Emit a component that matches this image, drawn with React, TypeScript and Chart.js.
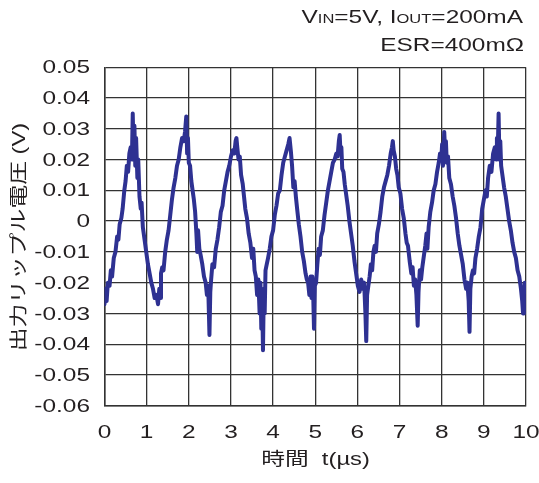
import React, { useEffect, useRef } from "react";
import { Chart, registerables } from "chart.js";

Chart.register(...registerables);

const timeUs: number[] = [
  0.00, 0.02, 0.05, 0.08, 0.12, 0.15, 0.18, 0.22, 0.26, 0.30, 0.33, 0.36, 0.40, 0.43, 0.47, 0.50, 0.53, 0.56, 0.59, 0.62,
  0.65, 0.67, 0.69, 0.71, 0.73, 0.75, 0.78, 0.80, 0.83, 0.86, 0.88, 0.91, 0.95, 0.99, 1.03, 1.07, 1.11, 1.15, 1.19, 1.23,
  1.27, 1.30, 1.32, 1.34, 1.37, 1.40, 1.44, 1.48, 1.52, 1.56, 1.60, 1.64, 1.68, 1.72, 1.76, 1.80, 1.84, 1.88, 1.91, 1.94,
  1.96, 1.98, 2.00, 2.03, 2.06, 2.09, 2.12, 2.15, 2.18, 2.20, 2.22, 2.25, 2.28, 2.32, 2.36, 2.40, 2.43, 2.46, 2.49, 2.51,
  2.53, 2.56, 2.60, 2.64, 2.68, 2.72, 2.76, 2.80, 2.84, 2.88, 2.92, 2.96, 3.00, 3.04, 3.08, 3.11, 3.13, 3.15, 3.18, 3.21,
  3.24, 3.28, 3.31, 3.34, 3.38, 3.42, 3.46, 3.50, 3.53, 3.56, 3.59, 3.62, 3.65, 3.68, 3.70, 3.72, 3.74, 3.76, 3.78, 3.80,
  3.82, 3.85, 3.88, 3.92, 3.96, 4.00, 4.04, 4.08, 4.12, 4.16, 4.20, 4.24, 4.28, 4.32, 4.36, 4.39, 4.42, 4.45, 4.48, 4.51,
  4.54, 4.57, 4.61, 4.65, 4.69, 4.73, 4.77, 4.80, 4.83, 4.86, 4.89, 4.91, 4.93, 4.95, 4.97, 4.99, 5.02, 5.05, 5.08, 5.11,
  5.14, 5.18, 5.22, 5.26, 5.30, 5.34, 5.38, 5.42, 5.46, 5.50, 5.53, 5.56, 5.58, 5.60, 5.62, 5.64, 5.67, 5.70, 5.73, 5.77,
  5.81, 5.85, 5.89, 5.93, 5.97, 6.01, 6.05, 6.09, 6.13, 6.16, 6.19, 6.21, 6.23, 6.26, 6.29, 6.32, 6.35, 6.38, 6.41, 6.44,
  6.47, 6.51, 6.55, 6.59, 6.63, 6.67, 6.71, 6.75, 6.79, 6.82, 6.84, 6.86, 6.89, 6.92, 6.95, 6.98, 7.02, 7.06, 7.10, 7.14,
  7.17, 7.20, 7.24, 7.28, 7.31, 7.34, 7.37, 7.40, 7.43, 7.45, 7.48, 7.51, 7.54, 7.57, 7.61, 7.64, 7.66, 7.69, 7.73, 7.77,
  7.81, 7.85, 7.89, 7.93, 7.96, 7.99, 8.01, 8.03, 8.06, 8.08, 8.10, 8.12, 8.15, 8.18, 8.22, 8.26, 8.30, 8.34, 8.38, 8.42,
  8.46, 8.50, 8.54, 8.58, 8.61, 8.64, 8.66, 8.68, 8.71, 8.74, 8.77, 8.80, 8.84, 8.88, 8.92, 8.96, 9.00, 9.04, 9.07, 9.10,
  9.14, 9.18, 9.22, 9.26, 9.29, 9.31, 9.33, 9.35, 9.37, 9.39, 9.41, 9.44, 9.48, 9.52, 9.56, 9.60, 9.64, 9.68, 9.72, 9.76,
  9.80, 9.84, 9.88, 9.91, 9.93, 9.95, 9.97, 10.00,
];

const rippleV: number[] = [
  -0.027, -0.022, -0.026, -0.020, -0.021, -0.016, -0.018, -0.012, -0.010, -0.005, -0.006, -0.001, 0.001, 0.004, 0.010, 0.013, 0.018, 0.016, 0.022, 0.024,
  0.020, 0.035, 0.022, 0.031, 0.018, 0.027, 0.014, 0.020, 0.008, 0.004, 0.006, -0.002, -0.006, -0.010, -0.014, -0.017, -0.020, -0.022, -0.025, -0.024,
  -0.027, -0.022, -0.025, -0.017, -0.015, -0.016, -0.010, -0.006, -0.003, 0.002, 0.007, 0.011, 0.014, 0.018, 0.020, 0.024, 0.027, 0.026, 0.029, 0.034,
  0.022, 0.027, 0.019, 0.018, 0.013, 0.010, 0.007, 0.003, -0.004, -0.010, -0.003, -0.009, -0.011, -0.014, -0.018, -0.020, -0.024, -0.021, -0.037, -0.023,
  -0.019, -0.014, -0.015, -0.009, -0.006, -0.002, 0.003, 0.005, 0.010, 0.013, 0.016, 0.018, 0.021, 0.023, 0.022, 0.026, 0.027, 0.024, 0.020, 0.021,
  0.015, 0.012, 0.008, 0.004, 0.001, -0.004, -0.007, -0.012, -0.009, -0.016, -0.018, -0.024, -0.019, -0.030, -0.020, -0.035, -0.025, -0.042, -0.022, -0.030,
  -0.016, -0.014, -0.012, -0.009, -0.005, -0.003, 0.002, 0.005, 0.009, 0.010, 0.015, 0.019, 0.021, 0.023, 0.025, 0.027, 0.023, 0.018, 0.011, 0.013,
  0.008, 0.004, -0.001, -0.005, -0.010, -0.013, -0.017, -0.019, -0.020, -0.024, -0.018, -0.025, -0.018, -0.023, -0.035, -0.021, -0.020, -0.014, -0.009, -0.011,
  -0.005, -0.003, 0.002, 0.006, 0.010, 0.013, 0.016, 0.019, 0.020, 0.022, 0.021, 0.026, 0.028, 0.022, 0.024, 0.017, 0.016, 0.012, 0.009, 0.005,
  0.000, -0.004, -0.008, -0.013, -0.017, -0.021, -0.023, -0.019, -0.022, -0.020, -0.030, -0.039, -0.024, -0.021, -0.018, -0.014, -0.016, -0.010, -0.008, -0.010,
  -0.004, -0.001, 0.003, 0.008, 0.011, 0.013, 0.015, 0.018, 0.022, 0.024, 0.026, 0.023, 0.021, 0.017, 0.015, 0.011, 0.009, 0.004, 0.001, -0.004,
  -0.007, -0.008, -0.013, -0.017, -0.015, -0.021, -0.019, -0.024, -0.034, -0.023, -0.016, -0.019, -0.015, -0.012, -0.008, -0.004, -0.009, -0.002, 0.003, 0.006,
  0.010, 0.012, 0.016, 0.019, 0.022, 0.020, 0.025, 0.018, 0.029, 0.023, 0.026, 0.019, 0.021, 0.014, 0.012, 0.008, 0.005, 0.001, -0.004, -0.008,
  -0.011, -0.014, -0.019, -0.022, -0.020, -0.026, -0.036, -0.022, -0.018, -0.016, -0.017, -0.012, -0.009, -0.005, -0.002, 0.004, 0.007, 0.010, 0.008, 0.014,
  0.018, 0.016, 0.022, 0.024, 0.020, 0.027, 0.023, 0.035, 0.020, 0.026, 0.018, 0.015, 0.011, 0.008, 0.004, 0.000, -0.003, -0.007, -0.010, -0.012,
  -0.016, -0.018, -0.022, -0.026, -0.030, -0.024, -0.020, -0.022,
];

const xTicks: number[] = [0, 1, 2, 3, 4, 5, 6, 7, 8, 9, 10];
const yTicks: number[] = [0.05, 0.04, 0.03, 0.02, 0.01, 0, -0.01, -0.02, -0.03, -0.04, -0.05, -0.06];

const xTitle = "時間  t(µs)";
const yTitle = "出力リップル電圧 (V)";
const headerLine1: [string, boolean][] = [
  ["V", false], ["IN", true], ["=5V, ", false], ["I", false], ["OUT", true], ["=200mA", false],
];
const headerLine2 = "ESR=400mΩ";

const FONT = '"Liberation Sans", Arial, "Noto Sans CJK JP", sans-serif';
const TEXT = "#231f20";
const SX = 1.32; // horizontal stretch of the lettering

function fmtY(v: number): string {
  const r = Math.round(v * 100) / 100;
  return r === 0 ? "0" : r.toFixed(2);
}

function stretchedText(
  ctx: CanvasRenderingContext2D,
  s: string,
  x: number,
  y: number,
  align: CanvasTextAlign,
  baseline: CanvasTextBaseline
) {
  ctx.save();
  ctx.translate(x, y);
  ctx.scale(SX, 1);
  ctx.textAlign = align;
  ctx.textBaseline = baseline;
  ctx.fillText(s, 0, 0);
  ctx.restore();
}

const textPlugin = {
  id: "textPlugin",
  afterDraw(chart: any) {
    const ctx = chart.ctx as CanvasRenderingContext2D;
    const xs = chart.scales.x;
    const ys = chart.scales.y;
    ctx.save();
    ctx.fillStyle = TEXT;
    const big = `18.5px ${FONT}`;
    const small = `12.5px ${FONT}`;

    // tick labels
    ctx.font = big;
    for (const v of yTicks) {
      stretchedText(ctx, fmtY(v), 90, ys.getPixelForValue(v) + 1, "right", "middle");
    }
    for (const v of xTicks) {
      stretchedText(ctx, String(v), xs.getPixelForValue(v), 432.5, "center", "middle");
    }

    // header line 1
    let total = 0;
    for (const [s, sub] of headerLine1) {
      ctx.font = sub ? small : big;
      total += ctx.measureText(s).width * SX;
    }
    let x = 523 - total;
    for (const [s, sub] of headerLine1) {
      ctx.font = sub ? small : big;
      stretchedText(ctx, s, x, 23, "left", "alphabetic");
      x += ctx.measureText(s).width * SX;
    }
    ctx.font = big;
    stretchedText(ctx, headerLine2, 524, 51, "right", "alphabetic");

    // x title
    ctx.font = `18px ${FONT}`;
    stretchedText(ctx, xTitle, 315.5, 460, "center", "middle");

    // y title
    ctx.translate(20, 237);
    ctx.rotate(-Math.PI / 2);
    stretchedText(ctx, yTitle, 0, 0, "center", "middle");
    ctx.restore();
  },
};

export default function App() {
  const ref = useRef<HTMLCanvasElement | null>(null);
  useEffect(() => {
    if (!ref.current) return;
    const points = timeUs.map((t, i) => ({ x: t, y: rippleV[i] }));
    const chart = new Chart(ref.current, {
      type: "line",
      data: {
        datasets: [
          {
            data: points,
            borderColor: "#2e3192",
            borderWidth: 4,
            pointRadius: 0,
            tension: 0,
            borderJoinStyle: "round",
            borderCapStyle: "round",
            fill: false,
          },
        ],
      },
      options: {
        responsive: false,
        animation: false,
        events: [],
        layout: { padding: { top: 67.3, right: 13, left: 0, bottom: 0 } },
        plugins: { legend: { display: false }, tooltip: { enabled: false }, title: { display: false } },
        scales: {
          x: {
            type: "linear",
            min: 0,
            max: 10,
            afterFit(scale: any) {
              scale.height = 77.3;
              scale.paddingLeft = 0;
              scale.paddingRight = 0;
            },
            afterBuildTicks(scale: any) {
              scale.ticks = xTicks.map((v) => ({ value: v }));
            },
            ticks: { display: false, autoSkip: false },
            grid: { color: "#333", lineWidth: 1.3, drawTicks: false },
            border: { display: true, color: "#333", width: 1.5 },
          },
          y: {
            type: "linear",
            min: -0.06,
            max: 0.05,
            afterFit(scale: any) {
              scale.width = 104.5;
              scale.paddingTop = 0;
              scale.paddingBottom = 0;
            },
            afterBuildTicks(scale: any) {
              scale.ticks = yTicks.map((v) => ({ value: v }));
            },
            ticks: { display: false, autoSkip: false },
            grid: { color: "#333", lineWidth: 1.3, drawTicks: false },
            border: { display: true, color: "#333", width: 1.5 },
          },
        },
      },
      plugins: [textPlugin],
    });
    return () => chart.destroy();
  }, []);
  return (
    <div style={{ position: "absolute", left: 0, top: 0, width: 539, height: 483, background: "#fff" }}>
      <canvas ref={ref} width={539} height={483} style={{ display: "block" }} />
    </div>
  );
}
